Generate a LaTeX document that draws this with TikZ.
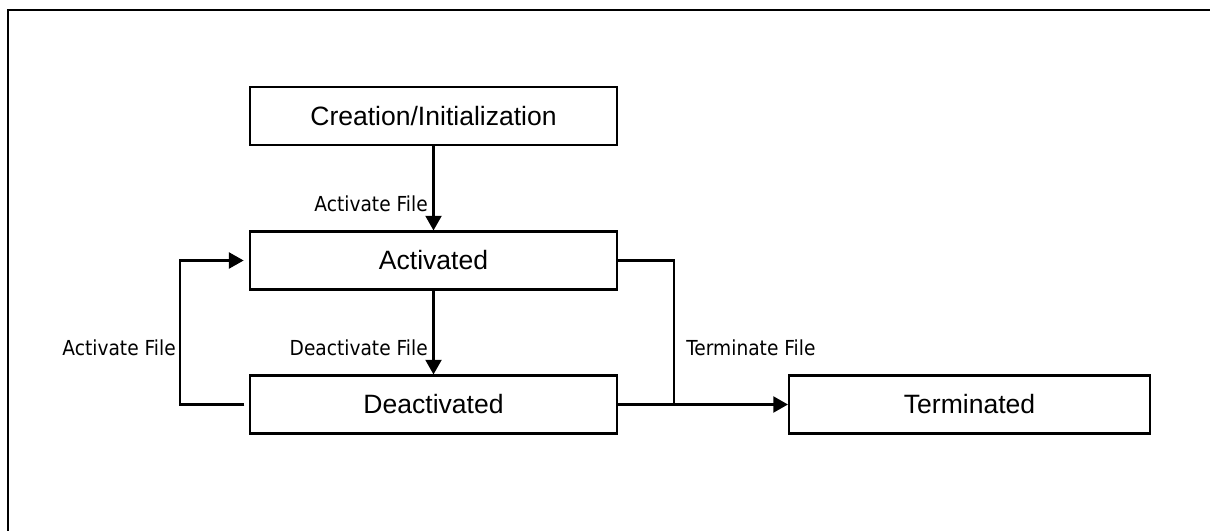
\documentclass[tikz,border=0pt]{standalone}
\usepackage{fontspec}
\setmainfont{Liberation Sans}
\newfontfamily\lblfont[FakeStretch=0.9]{DejaVu Sans}
\usetikzlibrary{arrows.meta}
\def\px{0.75pt}
\tikzset{
  statebox/.style={draw, line width=1.6pt, rectangle, inner sep=0pt,
    minimum width=367*\px, minimum height=58*\px,
    font=\fontsize{19.9}{24}\selectfont},
  lbl/.style={inner sep=0pt, font=\lblfont\fontsize{15.5}{18}\selectfont},
  conn/.style={line width=1.7pt},
  arr/.style={conn, -{Triangle[length=11pt, width=12pt]}}
}
\begin{document}
\begin{tikzpicture}[x=0.75pt, y=-0.75pt]
  \fill[white] (0,0) rectangle (1210,531);
  \useasboundingbox (0,0) rectangle (1210,531);
  % page frame: only its left and top edges fall inside the picture
  \draw[line width=2.2pt] (8,531) -- (8,10) -- (1210,10);

  % states
  \node[statebox] (cre) at (433.5,116) {Creation/Initialization};
  \node[statebox] (act) at (433.5,260.5) {Activated};
  \node[statebox] (deact) at (433.5,404.5) {Deactivated};
  \node[statebox, minimum width=361*\px] (term) at (969.5,404.5) {Terminated};

  % transitions
  \draw[arr] (cre.south) -- (act.north);
  \draw[arr] (act.south) -- (deact.north);
  \draw[arr] ([xshift=-3.5pt]deact.west) -- ++(-64,0) |- ([xshift=-4pt]act.west);
  \coordinate (tj) at (674,404.5);
  \draw[conn] (act.east) -| (tj);
  \draw[arr] (deact.east) -- (term.west);

  % transition labels
  \node[lbl, anchor=east] (l1) at (428,204) {Activate File};
  \node[lbl, anchor=east] (l2) at (428,348) {Deactivate File};
  \node[lbl, anchor=east] (l3) at (176,348) {Activate File};
  \node[lbl, anchor=west] (l4) at (686,348) {Terminate File};
\end{tikzpicture}
\end{document}
